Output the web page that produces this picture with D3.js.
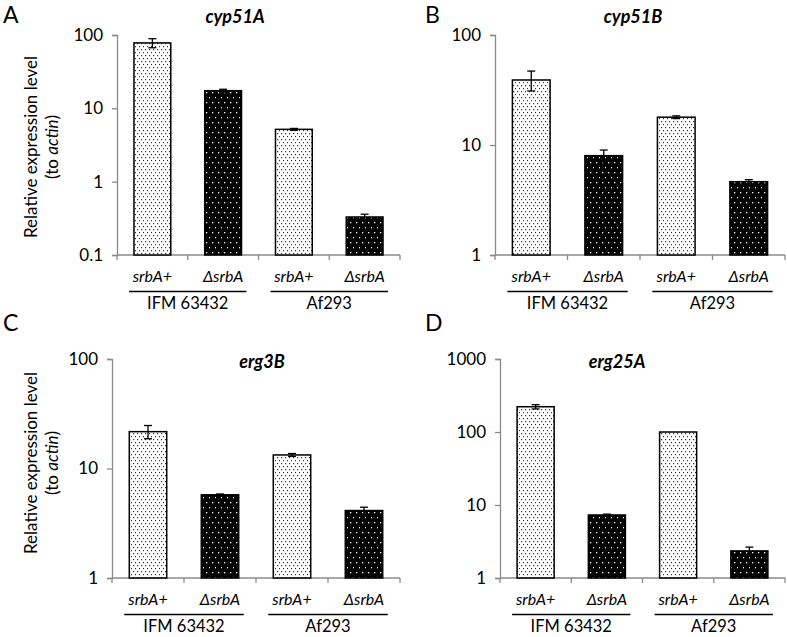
<!DOCTYPE html>
<html>
<head>
<meta charset="utf-8">
<script src="https://cdn.jsdelivr.net/npm/d3@7"></script>
<style>
  body { margin: 0; background: #fff; }
  svg { font-family: Lato, "Open Sans", sans-serif; }
</style>
</head>
<body>
<div id="chart"></div>
<script>
// data
var strains = ["srbA+", "ΔsrbA", "srbA+", "ΔsrbA"];
var groups = ["IFM 63432", "Af293"];

var cyp51A = [78, 17.4, 5.17, 0.33];
var cyp51AErr = [11, 0.8, 0.15, 0.03];
var cyp51B = [39, 8.0, 17.9, 4.64];
var cyp51BErr = [8, 1.0, 0.5, 0.2];
var erg3B = [21.7, 5.75, 13.3, 4.13];
var erg3BErr = [3, 0.1, 0.4, 0.3];
var erg25A = [222, 7.3, 100, 2.35];
var erg25AErr = [15, 0.2, 0, 0.3];

var ticksA = [0.1, 1, 10, 100];
var ticksB = [1, 10, 100];
var ticksC = [1, 10, 100];
var ticksD = [1, 10, 100, 1000];

var W = 787, H = 637;
var svg = d3.select("#chart").append("svg").attr("width", W).attr("height", H);

// fill patterns
var defs = svg.append("defs");
var pl = defs.append("pattern").attr("id", "light").attr("patternUnits", "userSpaceOnUse")
  .attr("width", 4).attr("height", 6);
pl.append("rect").attr("width", 4).attr("height", 6).attr("fill", "#fff");
pl.append("rect").attr("x", 1).attr("y", 1).attr("width", 1.2).attr("height", 1.2).attr("fill", "#333");
pl.append("rect").attr("x", 3).attr("y", 4).attr("width", 1.2).attr("height", 1.2).attr("fill", "#333");

var pd = defs.append("pattern").attr("id", "dark").attr("patternUnits", "userSpaceOnUse")
  .attr("width", 6).attr("height", 10);
pd.append("rect").attr("width", 6).attr("height", 10).attr("fill", "#000");
pd.append("rect").attr("x", 2).attr("y", 2).attr("width", 1.3).attr("height", 1.3).attr("fill", "#fff");
pd.append("rect").attr("x", 5).attr("y", 7).attr("width", 1.3).attr("height", 1.3).attr("fill", "#fff");

var panels = [
  {letter: "A", lx: 3, ly: 23, title: "cyp51A", tx: 235, ty: 23, x0: 117, x1: 400, y0: 35, y1: 255,
   domain: [0.1, 100], ticks: ticksA, vals: cyp51A, errs: cyp51AErr, ytitle: true, yt: 147},
  {letter: "B", lx: 425, ly: 23, title: "cyp51B", tx: 633, ty: 23, x0: 495, x1: 785, y0: 35, y1: 255,
   domain: [1, 100], ticks: ticksB, vals: cyp51B, errs: cyp51BErr, ytitle: false},
  {letter: "C", lx: 3, ly: 331, title: "erg3B", tx: 262, ty: 368, x0: 112, x1: 400, y0: 359, y1: 578,
   domain: [1, 100], ticks: ticksC, vals: erg3B, errs: erg3BErr, ytitle: true, yt: 463},
  {letter: "D", lx: 425, ly: 331, title: "erg25A", tx: 617, ty: 368, x0: 500, x1: 785, y0: 359, y1: 578,
   domain: [1, 1000], ticks: ticksD, vals: erg25A, errs: erg25AErr, ytitle: false}
];

var axisColor = "#8a8a8a";

panels.forEach(function(p) {
  var g = svg.append("g");
  var x = d3.scaleBand().domain(d3.range(strains.length)).range([p.x0, p.x1]).paddingInner(0).paddingOuter(0);
  var y = d3.scaleLog().domain(p.domain).range([p.y1, p.y0]);
  var bw = x.bandwidth() * 0.52;
  var rows = p.vals.map(function(v, i) { return {i: i, v: v, e: p.errs[i]}; });
  var cx = function(d) { return x(d.i) + x.bandwidth() / 2; };

  // panel letter and title
  g.append("text").attr("x", p.lx).attr("y", p.ly).attr("font-size", 23).attr("fill", "#000").text(p.letter);
  g.append("text").attr("x", p.tx).attr("y", p.ty).attr("text-anchor", "middle")
    .attr("font-size", 18).attr("font-weight", "bold").attr("font-style", "italic").text(p.title);

  // y axis
  var ya = d3.axisLeft(y).tickValues(p.ticks).tickSize(5).tickPadding(9)
    .tickFormat(function(d) { return d < 1 ? d3.format(".1f")(d) : d3.format("d")(d); });
  var yg = g.append("g").attr("transform", "translate(" + p.x0 + ",0)").call(ya);
  yg.select(".domain").attr("stroke", axisColor).attr("stroke-width", 1.3);
  yg.selectAll(".tick line").attr("stroke", axisColor).attr("stroke-width", 1.3);
  yg.selectAll(".tick text").attr("font-size", 17).attr("fill", "#000").attr("font-family", "Lato, sans-serif");

  // x axis (band boundaries as ticks)
  var xg = g.append("g");
  xg.append("line").attr("x1", p.x0).attr("x2", p.x1).attr("y1", p.y1).attr("y2", p.y1)
    .attr("stroke", axisColor).attr("stroke-width", 1.3);
  xg.selectAll("line.tk").data(d3.range(strains.length + 1)).enter().append("line").attr("class", "tk")
    .attr("x1", function(i) { return i < strains.length ? x(i) : p.x1; })
    .attr("x2", function(i) { return i < strains.length ? x(i) : p.x1; })
    .attr("y1", p.y1).attr("y2", p.y1 + 5)
    .attr("stroke", axisColor).attr("stroke-width", 1.3);

  // bars
  g.selectAll("rect.bar").data(rows).enter().append("rect").attr("class", "bar")
    .attr("x", function(d) { return x(d.i) + (x.bandwidth() - bw) / 2; })
    .attr("width", bw)
    .attr("y", function(d) { return y(d.v); })
    .attr("height", function(d) { return p.y1 - y(d.v); })
    .attr("fill", function(d) { return d.i % 2 === 0 ? "url(#light)" : "url(#dark)"; })
    .attr("stroke", "#000").attr("stroke-width", 1.5);

  // error bars
  var eb = g.selectAll("g.err").data(rows.filter(function(d) { return d.e > 0; }))
    .enter().append("g").attr("class", "err");
  eb.append("line")
    .attr("x1", cx).attr("x2", cx)
    .attr("y1", function(d) { return y(d.v - d.e); })
    .attr("y2", function(d) { return y(d.v + d.e); })
    .attr("stroke", "#000").attr("stroke-width", 1.3);
  eb.append("line")
    .attr("x1", function(d) { return cx(d) - 4; })
    .attr("x2", function(d) { return cx(d) + 4; })
    .attr("y1", function(d) { return y(d.v + d.e); })
    .attr("y2", function(d) { return y(d.v + d.e); })
    .attr("stroke", "#000").attr("stroke-width", 1.3);
  eb.append("line")
    .attr("x1", function(d) { return cx(d) - 4; })
    .attr("x2", function(d) { return cx(d) + 4; })
    .attr("y1", function(d) { return y(d.v - d.e); })
    .attr("y2", function(d) { return y(d.v - d.e); })
    .attr("stroke", "#000").attr("stroke-width", 1.3);

  // strain labels
  g.selectAll("text.cat").data(strains).enter().append("text").attr("class", "cat")
    .attr("x", function(d, i) { return x(i) + x.bandwidth() / 2; })
    .attr("y", p.y1 + 27)
    .attr("text-anchor", "middle").attr("font-size", 16).attr("font-style", "italic")
    .text(function(d) { return d; });

  // group lines and labels
  groups.forEach(function(name, k) {
    var a = x(2 * k) + x.bandwidth() / 2, b = x(2 * k + 1) + x.bandwidth() / 2;
    var half = x.bandwidth() * 0.33;
    g.append("line").attr("x1", a - half).attr("x2", b + half)
      .attr("y1", p.y1 + 36.5).attr("y2", p.y1 + 36.5).attr("stroke", "#000").attr("stroke-width", 1.3);
    g.append("text").attr("x", (a + b) / 2).attr("y", p.y1 + 54)
      .attr("text-anchor", "middle").attr("font-size", 16.5).text(name);
  });

  // y axis title
  if (p.ytitle) {
    g.append("text").attr("transform", "translate(37," + p.yt + ") rotate(-90)")
      .attr("text-anchor", "middle").attr("font-size", 17).text("Relative expression level");
    var t2 = g.append("text").attr("transform", "translate(58," + p.yt + ") rotate(-90)")
      .attr("text-anchor", "middle").attr("font-size", 17);
    t2.append("tspan").text("(to ");
    t2.append("tspan").attr("font-style", "italic").text("actin");
    t2.append("tspan").text(")");
  }
});
</script>
</body>
</html>
